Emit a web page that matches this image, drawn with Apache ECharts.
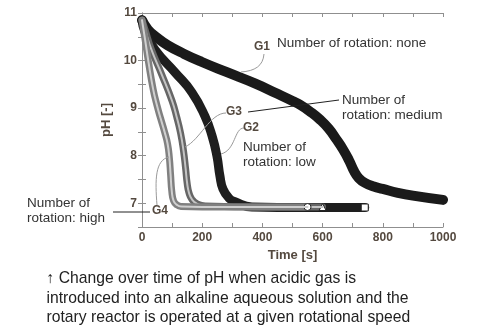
<!DOCTYPE html>
<html>
<head>
<meta charset="utf-8">
<script src="https://cdn.jsdelivr.net/npm/echarts@6/dist/echarts.min.js"></script>
<style>
  html, body { margin: 0; padding: 0; background: #fff; }
  #chart { width: 480px; height: 332px; }
</style>
</head>
<body>
<div id="chart"></div>
<script>
// pH over time [s] for four rotor speeds
const seriesNames = ['G1', 'G2', 'G3', 'G4'];

const g1Time = [0, 20, 50, 86, 140, 199, 280, 375, 450, 500, 525, 560, 591, 620, 645, 668, 688, 705, 720, 740, 770, 800, 850, 900, 1000];
const g1PH   = [10.85, 10.65, 10.48, 10.32, 10.14, 9.97, 9.76, 9.52, 9.3, 9.15, 9.07, 8.92, 8.76, 8.57, 8.35, 8.13, 7.9, 7.67, 7.53, 7.43, 7.35, 7.3, 7.22, 7.16, 7.07];

const g2Time = [0, 10, 43, 110, 166, 209, 233, 249, 259, 269, 290, 309, 365, 450, 600, 740];
const g2PH   = [10.85, 10.6, 10.23, 9.75, 9.33, 8.83, 8.41, 7.99, 7.57, 7.3, 7.1, 7.03, 6.92, 6.91, 6.91, 6.91];

const g3Time = [0, 10, 30, 66, 100, 115, 128, 138, 145, 150, 156, 166, 182, 210, 400, 600];
const g3PH   = [10.85, 10.65, 10.25, 9.7, 9.15, 8.82, 8.48, 8.1, 7.72, 7.42, 7.22, 7.08, 6.99, 6.94, 6.92, 6.92];

const g4Time = [0, 10, 22, 37, 50, 62, 75, 85, 91, 95, 99, 105, 115, 130, 200, 550];
const g4PH   = [10.85, 10.45, 9.95, 9.4, 9.05, 8.78, 8.5, 8.25, 7.95, 7.6, 7.25, 7.05, 6.97, 6.93, 6.92, 6.92];

const xTicks = [0, 200, 400, 600, 800, 1000];
const yTicks = [7, 8, 9, 10, 11];

const tickFont = "'Liberation Sans', Arial, sans-serif";
const textFont = "'Liberation Sans', Arial, sans-serif";
const axisInk = '#54493f';
const frameInk = '#8f8f8f';

function pairs(ts, vs, endSymbol) {
  const out = ts.map((t, i) => [t, vs[i]]);
  if (endSymbol) {
    const last = out.length - 1;
    out[last] = {
      value: out[last],
      symbol: endSymbol,
      symbolSize: 7,
      itemStyle: { color: '#fff', borderColor: '#222', borderWidth: 1 }
    };
  }
  return out;
}

function band(name, data, color, width, z) {
  return {
    name, type: 'line', data, z,
    symbol: 'none', showSymbol: true, smooth: 0.5,
    lineStyle: { color, width, cap: 'round', join: 'round' },
    itemStyle: { color },
    emphasis: { disabled: true },
    animation: false
  };
}

function frameAxis(pos, extra) {
  return Object.assign({
    type: 'value', position: pos,
    axisLine: { show: true, lineStyle: { color: frameInk, width: 1 } },
    axisTick: { show: true, inside: true, length: 4, lineStyle: { color: frameInk } },
    splitLine: { show: false }
  }, extra);
}

const chart = echarts.init(document.getElementById('chart'), null, { renderer: 'canvas' });

chart.setOption({
  animation: false,
  backgroundColor: '#fff',
  grid: { left: 142, right: 37, top: 13, bottom: 105, containLabel: false },
  xAxis: [
    frameAxis('bottom', {
      min: 0, max: 1000, interval: 100,
      axisLabel: {
        margin: 5, color: axisInk, fontFamily: tickFont, fontWeight: 'bold', fontSize: 12,
        formatter: v => (xTicks.includes(v) ? String(v) : '')
      },
      name: 'Time [s]', nameLocation: 'middle', nameGap: 19,
      nameTextStyle: { color: axisInk, fontFamily: textFont, fontWeight: 'bold', fontSize: 13 }
    }),
    frameAxis('top', { min: 0, max: 1000, interval: 100, axisLabel: { show: false } })
  ],
  yAxis: [
    frameAxis('left', {
      min: 6.5, max: 11, interval: 0.5,
      axisLabel: {
        margin: 5, color: axisInk, fontFamily: tickFont, fontWeight: 'bold', fontSize: 12,
        formatter: v => (yTicks.includes(v) ? String(v) : '')
      },
      name: 'pH [-]', nameLocation: 'middle', nameGap: 29, nameRotate: 90,
      nameTextStyle: { color: axisInk, fontFamily: textFont, fontWeight: 'bold', fontSize: 13 }
    }),
    frameAxis('right', { min: 6.5, max: 11, interval: 0.5, axisLabel: { show: false } })
  ],
  series: [
    band('G1', pairs(g1Time, g1PH), '#1a1a1a', 10, 2),
    band('G2', pairs(g2Time, g2PH, 'rect'), '#1e1e1e', 9, 3),
    band('G3', pairs(g3Time, g3PH, 'triangle'), '#666666', 7, 4),
    band('G3 trace', pairs(g3Time, g3PH), '#c4c4c4', 2, 5),
    band('G4', pairs(g4Time, g4PH, 'circle'), '#808080', 7, 6),
    band('G4 trace', pairs(g4Time, g4PH), '#d0d0d0', 2, 7)
  ]
});

// Curve labels, leader lines and the caption
const labelStyle = { fill: axisInk, font: "bold 12px " + tickFont };
const noteStyle = { fill: '#333', font: "13.5px " + textFont };
const leader = { stroke: '#9a9a9a', lineWidth: 1, fill: null };

function label(text, x, y) {
  return { type: 'text', x, y, z: 20, style: Object.assign({ text, align: 'center', verticalAlign: 'middle' }, labelStyle) };
}
function note(lines, x, y) {
  return lines.map((t, i) => ({
    type: 'text', x, y: y + i * 15, z: 20,
    style: Object.assign({ text: t, align: 'left', verticalAlign: 'middle' }, noteStyle)
  }));
}
function curve(x1, y1, cx1, cy1, cx2, cy2, x2, y2) {
  return { type: 'bezierCurve', z: 19, shape: { x1, y1, cpx1: cx1, cpy1: cy1, cpx2: cx2, cpy2: cy2, x2, y2 }, style: leader };
}
function rule(x1, y1, x2, y2) {
  return { type: 'line', z: 19, shape: { x1, y1, x2, y2 }, style: { stroke: '#222', lineWidth: 1 } };
}

chart.setOption({
  graphic: [
    label('G1', 262, 47),
    label('G3', 234, 112),
    label('G2', 251, 128),
    label('G4', 160, 211),
    curve(264, 54, 263, 66, 255, 71, 241, 72),
    curve(226, 113, 210, 113, 200, 140, 185, 147),
    curve(244, 128, 234, 128, 236, 150, 221, 154),
    curve(157, 205, 155, 180, 155, 160, 169, 157),
    rule(248, 112, 339, 100),
    rule(113, 212, 150, 212),
    ...note(['Number of rotation: none'], 277, 43),
    ...note(['Number of', 'rotation: medium'], 342, 100),
    ...note(['Number of', 'rotation: low'], 243, 147),
    ...note(['Number of', 'rotation: high'], 27, 203),
    ...['\u2191 Change over time of pH when acidic gas is',
        'introduced into an alkaline aqueous solution and the',
        'rotary reactor is operated at a given rotational speed'].map((t, i) => ({
      type: 'text', x: 46.5, y: 279 + i * 19.5, z: 20,
      style: { text: t, fill: '#222', font: "15.7px " + textFont, align: 'left', verticalAlign: 'middle' }
    }))
  ]
});
</script>
</body>
</html>
